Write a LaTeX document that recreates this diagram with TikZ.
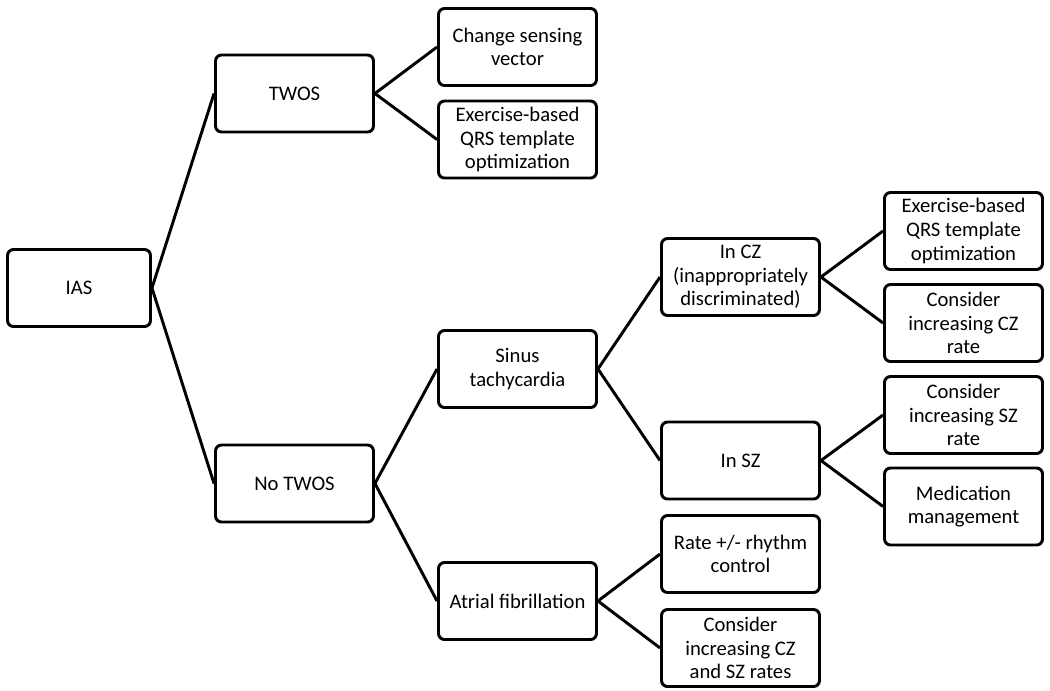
\documentclass[tikz,border=0pt]{standalone}
\usepackage{fontspec}
\setmainfont{Carlito}
\usepackage{tikz}
\tikzstyle{dbox}=[draw,line width=2.2pt,rounded corners=4.5pt,minimum width=118.5pt,minimum height=57.75pt,align=center,inner sep=2pt,font=\fontsize{15.5}{17.7}\selectfont]
\tikzstyle{link}=[line width=2.2pt]

\begin{document}
\begin{tikzpicture}[-,x=0.75pt,y=-0.75pt]
				\useasboundingbox (0,0) rectangle (1050,690);

				\draw node [dbox,minimum width=107.25pt] (ias) at (79,288) {IAS};

				\draw node [dbox] (twos) at (294.5,93.5) {TWOS};
				\draw node [dbox] (notwos) at (294.5,483.5) {No TWOS};

				\draw node [dbox] (chg) at (517.5,47) {Change sensing\\vector};
				\draw node [dbox] (exq) at (517.5,139.5) {Exercise-based\\QRS template\\optimization};
				\draw node [dbox] (sinus) at (517.5,369) {Sinus\\tachycardia};
				\draw node [dbox] (af) at (517.5,601) {Atrial fibrillation};

				\draw node [dbox] (incz) at (740.5,277) {In CZ\\(inappropriately\\discriminated)};
				\draw node [dbox] (insz) at (740.5,460.5) {In SZ};
				\draw node [dbox] (rate) at (740.5,554) {Rate +/- rhythm\\control};
				\draw node [dbox] (czsz) at (740.5,648) {Consider\\increasing CZ\\and SZ rates};

				\draw node [dbox] (exq') at (963.5,231) {Exercise-based\\QRS template\\optimization};
				\draw node [dbox] (czrate) at (963.5,323) {Consider\\increasing CZ\\rate};
				\draw node [dbox] (szrate) at (963.5,415) {Consider\\increasing SZ\\rate};
				\draw node [dbox] (med) at (963.5,506.5) {Medication\\management};

				\path
				(ias.east) edge[link] (twos.west)
				(ias.east) edge[link] (notwos.west)
				(twos.east) edge[link] (chg.west)
				(twos.east) edge[link] (exq.west)
				(notwos.east) edge[link] (sinus.west)
				(notwos.east) edge[link] (af.west)

				(sinus.east) edge[link] (incz.west)
				(sinus.east) edge[link] (insz.west)
				(af.east) edge[link] (rate.west)
				(af.east) edge[link] (czsz.west)

				(incz.east) edge[link] (exq'.west)
				(incz.east) edge[link] (czrate.west)
				(insz.east) edge[link] (szrate.west)
				(insz.east) edge[link] (med.west)
				;
			\end{tikzpicture}
\end{document}
